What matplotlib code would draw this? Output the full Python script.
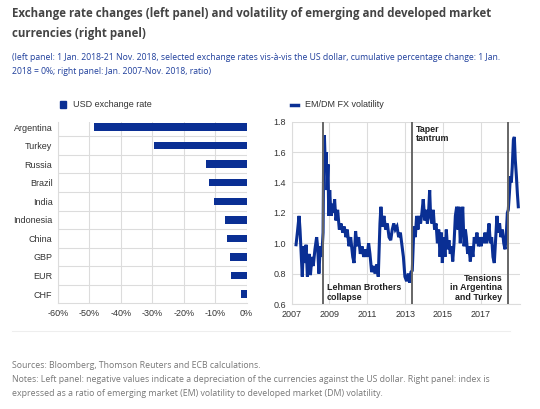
import matplotlib
matplotlib.use("Agg")
import matplotlib.pyplot as plt
import numpy as np

# ---------------- data ----------------
countries = ["Argentina", "Turkey", "Russia", "Brazil", "India",
             "Indonesia", "China", "GBP", "EUR", "CHF"]
usd_change = [-48.4, -29.3, -12.8, -11.8, -10.4, -6.9, -6.2, -5.2, -5.0, -1.9]
x_ticks_left = [-60, -50, -40, -30, -20, -10, 0]

vol_years = [
    2007.23, 2007.30, 2007.39, 2007.44, 2007.51, 2007.56, 2007.62, 2007.69, 2007.76, 2007.83,
    2007.92, 2007.99, 2008.07, 2008.14, 2008.23, 2008.32, 2008.37, 2008.44, 2008.51, 2008.59,
    2008.66, 2008.69, 2008.73, 2008.78, 2008.82, 2008.87, 2008.92, 2008.96, 2009.01, 2009.08,
    2009.15, 2009.22, 2009.27, 2009.34, 2009.43, 2009.52, 2009.61, 2009.70, 2009.78, 2009.87,
    2009.94, 2010.03, 2010.12, 2010.23, 2010.30, 2010.38, 2010.46, 2010.54, 2010.63, 2010.72,
    2010.81, 2010.90, 2010.98, 2011.07, 2011.14, 2011.23, 2011.32, 2011.41, 2011.50, 2011.58,
    2011.67, 2011.72, 2011.80, 2011.88, 2011.97, 2012.06, 2012.15, 2012.24, 2012.32, 2012.40,
    2012.48, 2012.57, 2012.66, 2012.75, 2012.82, 2012.91, 2012.99, 2013.08, 2013.17, 2013.24,
    2013.31, 2013.38, 2013.44, 2013.49, 2013.54, 2013.61, 2013.68, 2013.75, 2013.82, 2013.89,
    2013.96, 2014.04, 2014.11, 2014.18, 2014.25, 2014.30, 2014.35, 2014.42, 2014.49, 2014.56,
    2014.64, 2014.71, 2014.78, 2014.85, 2014.92, 2014.97, 2015.04, 2015.11, 2015.18, 2015.25,
    2015.32, 2015.39, 2015.46, 2015.52, 2015.59, 2015.66, 2015.73, 2015.80, 2015.85, 2015.92,
    2015.98, 2016.05, 2016.12, 2016.19, 2016.24, 2016.31, 2016.38, 2016.45, 2016.52, 2016.59,
    2016.66, 2016.73, 2016.80, 2016.88, 2016.95, 2017.02, 2017.09, 2017.16, 2017.23, 2017.30,
    2017.37, 2017.44, 2017.51, 2017.58, 2017.65, 2017.72, 2017.79, 2017.86, 2017.93, 2018.00,
    2018.07, 2018.15, 2018.22, 2018.29, 2018.36, 2018.41, 2018.46, 2018.52, 2018.57, 2018.62,
    2018.67, 2018.73, 2018.78, 2018.83, 2018.89, 2018.94, 2018.99]
vol_ratio = [
    0.99, 1.07, 1.18, 1.09, 0.91, 0.78, 0.98, 0.87, 0.99, 0.78,
    0.93, 0.79, 0.91, 0.85, 0.96, 1.04, 0.98, 0.80, 0.98, 0.91,
    1.07, 1.57, 1.71, 1.50, 1.60, 1.35, 1.52, 1.18, 1.35, 1.18,
    1.26, 1.20, 1.29, 1.15, 1.22, 1.09, 1.13, 1.07, 1.11, 1.04,
    1.09, 0.98, 1.04, 0.91, 0.87, 1.08, 0.98, 1.04, 0.93, 0.98,
    0.91, 0.96, 0.91, 1.00, 0.93, 0.81, 0.85, 0.80, 0.86, 0.78,
    1.13, 1.24, 1.11, 1.18, 1.09, 1.13, 1.04, 1.02, 1.09, 1.13,
    1.09, 1.11, 1.04, 1.07, 1.00, 0.91, 0.78, 0.75, 0.80, 0.74,
    0.81, 0.82, 1.02, 1.11, 1.04, 1.18, 1.09, 1.18, 1.13, 1.20,
    1.29, 1.15, 1.22, 1.13, 1.22, 1.35, 1.18, 1.13, 1.22, 1.09,
    1.13, 1.00, 1.09, 0.91, 1.07, 0.87, 1.04, 0.91, 1.09, 0.96,
    1.02, 0.93, 0.98, 0.88, 1.00, 1.18, 1.24, 1.09, 1.24, 1.00,
    1.13, 1.24, 0.98, 1.09, 1.04, 0.93, 0.98, 0.88, 0.98, 0.91,
    1.04, 1.00, 1.07, 0.98, 1.04, 0.98, 1.04, 1.00, 1.07, 1.00,
    1.04, 1.13, 1.00, 1.04, 0.91, 0.87, 1.02, 1.18, 1.07, 1.13,
    1.04, 1.09, 1.00, 0.96, 1.07, 1.20, 1.22, 1.33, 1.44, 1.40,
    1.50, 1.68, 1.70, 1.55, 1.44, 1.33, 1.24]
year_ticks = [2007, 2009, 2011, 2013, 2015, 2017]
y_ticks_right = [0.6, 0.8, 1.0, 1.2, 1.4, 1.6, 1.8]
event_years = [2008.66, 2013.38, 2018.43]

# ---------------- style ----------------
BLUE = "#0a2f94"
GRID = "#dcdcdc"
TXT = "#333333"
CF = ["Liberation Sans", "DejaVu Sans"]
OF = ["Open Sans", "DejaVu Sans"]

W, H = 540, 409
fig = plt.figure(figsize=(W / 100, H / 100), dpi=100)
fig.patch.set_facecolor("white")

def fx(px):
    return px / W

def fy(py):
    return 1 - py / H

# Title and subtitle
fig.text(fx(12), fy(13), "Exchange rate changes (left panel) and volatility of emerging and developed market",
         family=OF, weight="bold", fontsize=8.3, color="#444444", va="center", ha="left")
fig.text(fx(12), fy(33), "currencies (right panel)",
         family=OF, weight="bold", fontsize=8.3, color="#444444", va="center", ha="left")
fig.text(fx(12), fy(58), "(left panel: 1 Jan. 2018-21 Nov. 2018, selected exchange rates vis-à-vis the US dollar, cumulative percentage change: 1 Jan.",
         family=OF, fontsize=6.25, color="#1f3f9c", va="center", ha="left")
fig.text(fx(12), fy(72), "2018 = 0%; right panel: Jan. 2007-Nov. 2018, ratio)",
         family=OF, fontsize=6.25, color="#1f3f9c", va="center", ha="left")

# ---------------- left panel ----------------
axL = fig.add_axes([fx(58), fy(303), fx(246.5) - fx(58), fy(122) - fy(303)])
ypos = np.arange(len(countries))
axL.barh(ypos, usd_change, height=0.4, color=BLUE, zorder=3)
axL.set_xlim(-60, 0)
axL.set_ylim(9.48, -0.27)
axL.set_yticks(ypos)
axL.set_yticklabels(countries, family=CF, fontsize=6.5, color=TXT)
axL.set_yticks(np.arange(0.5, 9.5, 1.0), minor=True)
axL.set_xticks(x_ticks_left)
axL.set_xticklabels([f"{v}%" for v in x_ticks_left], family=CF, fontsize=6.5, color=TXT)
axL.tick_params(axis="both", which="both", length=0, pad=4)
axL.grid(axis="x", which="major", color=GRID, lw=0.8, zorder=0)
axL.grid(axis="y", which="minor", color=GRID, lw=0.8, zorder=0)
for s in ["top", "right"]:
    axL.spines[s].set_visible(False)
for s in ["left", "bottom"]:
    axL.spines[s].set_color(GRID)
    axL.spines[s].set_linewidth(0.8)
# legend
fig.patches.append(plt.Rectangle((fx(60), fy(108)), fx(6), fy(101) - fy(108),
                                 transform=fig.transFigure, color=BLUE))
fig.text(fx(73), fy(104.5), "USD exchange rate", family=CF, fontsize=6.5, color=TXT,
         va="center", ha="left")

# ---------------- right panel ----------------
axR = fig.add_axes([fx(291.7), fy(304), fx(520) - fx(291.7), fy(121.7) - fy(304)])
axR.plot(vol_years, vol_ratio, color=BLUE, lw=2.2, zorder=3, solid_joinstyle="miter")
for ev in event_years:
    axR.axvline(ev, color="#666666", lw=1.4, zorder=4)
axR.set_xlim(2007, 2019.08)
axR.set_ylim(0.6, 1.8)
axR.set_xticks(year_ticks)
axR.set_xticklabels([str(y) for y in year_ticks], family=CF, fontsize=6.5, color=TXT)
axR.set_yticks(y_ticks_right)
axR.set_yticklabels([f"{v:.1f}" for v in y_ticks_right], family=CF, fontsize=6.5, color=TXT)
axR.tick_params(axis="both", length=0, pad=4)
axR.grid(True, color=GRID, lw=0.8, zorder=0)
for s in axR.spines.values():
    s.set_visible(False)
axR.spines["left"].set_visible(True)
axR.spines["left"].set_color(GRID)
axR.spines["bottom"].set_visible(True)
axR.spines["bottom"].set_color(GRID)

ann = dict(family=CF, fontsize=6.4, weight="bold", color="#222222", linespacing=1.05)
axR.text(2008.66 + 0.2, 0.615, "Lehman Brothers\ncollapse", ha="left", va="bottom", **ann)
axR.text(2013.38 + 0.2, 1.78, "Taper\ntantrum", ha="left", va="top", **ann)
axR.text(2018.43 - 0.3, 0.615, "Tensions\nin Argentina\nand Turkey", ha="right", va="bottom", **ann)

# legend right
fig.lines.append(plt.Line2D([fx(291), fx(298)], [fy(104.5), fy(104.5)], transform=fig.transFigure,
                            color=BLUE, lw=2.5))
fig.text(fx(305), fy(104.5), "EM/DM FX volatility", family=CF, fontsize=6.5, color=TXT,
         va="center", ha="left")

# separator and notes
fig.lines.append(plt.Line2D([fx(12), fx(510)], [fy(331), fy(331)], transform=fig.transFigure,
                            color="#eeeeee", lw=0.8))
NOTE = dict(family=OF, fontsize=6.3, color="#777777", va="center", ha="left")
fig.text(fx(12), fy(365), "Sources: Bloomberg, Thomson Reuters and ECB calculations.", **NOTE)
fig.text(fx(12), fy(379), "Notes: Left panel: negative values indicate a depreciation of the currencies against the US dollar. Right panel: index is", **NOTE)
fig.text(fx(12), fy(393), "expressed as a ratio of emerging market (EM) volatility to developed market (DM) volatility.", **NOTE)

fig.savefig("out.png", dpi=100)
